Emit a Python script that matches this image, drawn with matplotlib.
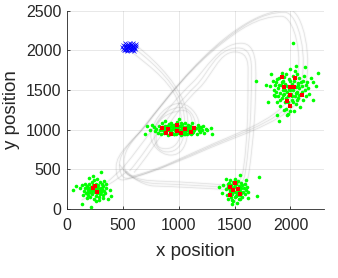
import matplotlib
matplotlib.use("Agg")
import matplotlib.pyplot as plt
from matplotlib.path import Path
from matplotlib.patches import PathPatch

plt.rcParams['font.family'] = ['Liberation Sans', 'DejaVu Sans']

# ---------------- data ----------------
xticks = [0, 500, 1000, 1500, 2000]
yticks = [0, 500, 1000, 1500, 2000, 2500]
xlabel = "x position"
ylabel = "y position"

green_a = [(57,243),(81,294),(131,67),(215,25),(302,461),(386,235),(395,159),(371,126),
    (150,230),(165,260),(170,200),(180,290),(185,240),(190,180),(195,320),(200,260),(205,210),
    (210,150),(215,280),(220,340),(222,230),(228,190),(232,300),(236,250),(240,120),(244,360),
    (248,220),(252,280),(256,170),(260,320),(264,240),(268,200),(272,380),(276,260),(280,300),
    (284,150),(288,230),(292,340),(296,190),(300,270),(305,220),(310,310),(315,250),(320,180),
    (325,290),(330,350),(335,230),(340,200),(345,270),(350,310),(140,180),(160,320),(175,140),
    (200,390),(230,410),(260,100),(290,110),(320,140),(120,260),(135,300),(210,240),(245,270),
    (265,290),(225,260),(255,230),(185,210),(300,240),(190,270)]

green_b = [(700,950),(720,1050),(760,1060),(1300,950),(1290,1020),(1250,1000),(745,1000),(780,1040),
    (790,980),(800,1010),(810,960),(820,1050),(830,1000),(840,940),(850,1080),(855,990),(860,1030),
    (870,960),(875,1110),(880,1010),(890,980),(895,1050),(900,930),(905,1020),(910,1070),(915,990),
    (920,950),(925,1040),(930,1000),(935,1090),(940,960),(945,1030),(950,1010),(955,940),(960,1060),
    (965,990),(970,1020),(975,950),(980,1100),(985,1040),(990,980),(995,1010),(1000,1130),(1005,960),
    (1010,1050),(1015,1000),(1020,930),(1025,1070),(1030,1020),(1035,980),(1040,1040),(1045,950),
    (1050,1010),(1055,1090),(1060,970),(1065,1030),(1070,1000),(1075,940),(1080,1060),(1085,990),
    (1090,1020),(1095,960),(1100,1050),(1105,1000),(1110,940),(1115,1080),(1120,1010),(1125,970),
    (1130,1040),(1140,990),(1150,1020),(1160,950),(1170,1060),(1180,1000),(1190,970),(1200,1030),
    (1210,990),(1220,1050),(1230,960),(1240,1010),(880,1050),(940,1060),(1000,1050),(1060,950),
    (1120,960),(960,940),(1020,1080),(850,1010),(1180,1040),(920,1000),(1000,970),(1080,1030)]

green_c = [(2020,2090),(1690,1610),(2250,1720),(1900,1110),(1780,1560),(1800,1350),(2230,1550),
    (2200,1380),(1880,1180),(2050,1800),(2130,1790),(1830,1700),
    (1850,1500),(1860,1420),(1870,1600),(1880,1350),(1890,1530),(1900,1650),(1905,1460),(1910,1300),
    (1915,1560),(1920,1720),(1925,1400),(1930,1500),(1935,1620),(1940,1250),(1945,1450),(1950,1580),
    (1955,1350),(1960,1700),(1965,1480),(1970,1550),(1975,1200),(1980,1420),(1985,1640),(1990,1510),
    (1995,1300),(2000,1760),(2005,1450),(2010,1580),(2015,1380),(2020,1680),(2025,1500),(2030,1240),
    (2035,1610),(2040,1430),(2045,1540),(2050,1330),(2055,1700),(2060,1470),(2065,1590),(2070,1400),
    (2075,1650),(2080,1520),(2085,1280),(2090,1600),(2095,1450),(2100,1550),(2110,1380),(2120,1680),
    (2130,1500),(2140,1430),(2150,1600),(2160,1520),(1870,1480),(1900,1560),(1950,1500),(2000,1620),
    (2050,1460),(1980,1350),(2010,1420),(1940,1660),(2070,1560),(1960,1400),(2020,1350),(1920,1600),
    (2000,1500),(1890,1420),(2100,1480),(1960,1260),(2040,1740),(1820,1550),(2180,1650),(2170,1450),
    (1840,1620),(1860,1560),(1880,1640),(1910,1380),(1930,1440),(2060,1380),(2080,1440),(2110,1620),
    (2140,1560),(1970,1180),(2000,1230),(1850,1440),(2200,1600)]

green_d = [(1720,400),(1700,160),(1360,280),(1390,200),(1550,430),(1480,60),(1520,75),(1620,140),
    (1600,360),(1420,380),(1420,250),(1430,180),(1440,320),(1445,120),(1450,270),(1455,210),(1460,360),
    (1465,150),(1470,300),(1475,240),(1480,190),(1485,340),(1490,100),(1495,280),(1500,220),(1505,380),
    (1510,160),(1515,310),(1520,250),(1525,200),(1530,350),(1535,130),(1540,290),(1545,230),(1550,180),
    (1555,330),(1560,260),(1565,150),(1570,300),(1575,210),(1580,270),(1590,190),(1590,320),(1600,240),
    (1610,280),(1460,240),(1500,300),(1540,260),(1480,260),(1520,180),(1500,150),(1470,200),(1530,220),
    (1440,280),(1560,200),(1510,330),(1490,230),(1400,300),(1620,220),(1480,110),(1550,120),(1450,330)]

red_pts = [(248,285),(272,210),(230,262),
    (849,1023),(903,1011),(885,952),(930,944),(984,1053),(987,986),(1019,952),(1058,1007),(1109,973),(1139,1023),
    (1925,1661),(2042,1657),(1940,1535),(1994,1535),(2030,1544),(1994,1439),(2105,1443),(1970,1367),(1994,1300),
    (1504,327),(1456,281),(1483,235),(1527,256),(1459,180),(1546,193)]

blue_pts = [(495,2040),(505,2070),(510,2010),(515,2050),(520,2090),(525,2020),(530,2060),(535,1990),
    (540,2040),(545,2080),(550,2010),(555,2050),(560,2095),(565,2030),(570,2065),(575,2000),(580,2045),
    (585,2080),(590,2020),(595,2055),(600,1995),(605,2070),(610,2035),(615,2085),(620,2050),(500,2020),
    (525,2075),(550,2040),(575,2070),(600,2040),(540,2000),(565,2005),(585,2010),(530,2030),(560,2060),
    (590,2090),(515,2000),(545,2055),(605,2015),(570,2040)]

# trajectories: cubic Bezier chains [anchor, ctrl, ctrl, anchor, ctrl, ctrl, anchor, ...]
traj_big = [
    [(560,390),(824,482),(1060,656),(1300,800),(1600,980),(1995,1160),(2080,1500),(2170,1900),(2070,2480),
     (1950,2480),(1730,2480),(1548,2283),(1400,2120),(1131,1824),(893,1400),(700,1050),(613,892),(470,740),
     (470,560),(470,480),(484,364),(560,390)],
    [(600,420),(864,512),(1080,686),(1320,830),(1620,1010),(1955,1180),(2040,1520),(2130,1920),(2030,2430),
     (1920,2430),(1700,2430),(1528,2243),(1380,2080),(1111,1784),(913,1430),(720,1080),(633,922),(510,780),
     (510,600),(510,520),(524,394),(600,420)],
    [(520,370),(784,462),(1040,626),(1280,770),(1580,950),(2035,1140),(2120,1480),(2210,1880),(2110,2510),
     (1990,2510),(1770,2510),(1568,2323),(1420,2160),(1151,1864),(873,1370),(680,1020),(593,862),(440,710),
     (440,530),(440,450),(444,344),(520,370)],
]
traj_loop2 = [
    [(560,480),(766,823),(910,1230),(1150,1550),(1270,1710),(1330,2030),(1530,2030),(1670,2030),(1650,1790),
     (1650,1650),(1650,1270),(1638,880),(1600,500),(1592,420),(1587,323),(1510,300)],
    [(600,460),(806,803),(940,1200),(1180,1520),(1300,1680),(1360,1980),(1500,1980),(1640,1980),(1620,1790),
     (1620,1650),(1620,1270),(1618,900),(1580,520),(1572,440),(1567,343),(1490,320)],
    [(500,520),(706,863),(880,1270),(1120,1590),(1240,1750),(1360,2090),(1560,2090),(1700,2090),(1690,1790),
     (1690,1650),(1690,1270),(1668,860),(1630,480),(1622,400),(1617,303),(1530,280)],
]
traj_blue = [
    [(600,2030),(802,1808),(996,1547),(1040,1250),(1065,1082),(1070,720),(900,720),(800,720),(780,850),
     (780,950),(780,1090),(863,1253),(1000,1280),(1098,1300),(1150,1150),(1150,1050)],
    [(560,2000),(762,1778),(966,1567),(1010,1270),(1035,1102),(1050,760),(880,760),(780,760),(800,880),
     (800,980),(800,1120),(883,1213),(1020,1240),(1118,1260),(1120,1120),(1120,1020)],
    [(620,2060),(822,1838),(1026,1527),(1070,1230),(1095,1062),(1100,680),(930,680),(830,680),(750,820),
     (750,920),(750,1060),(853,1303),(990,1330),(1088,1350),(1180,1180),(1180,1080)],
]
traj_low = [
    [(500,500),(554,393),(680,326),(800,320),(1020,309),(1241,292),(1460,270)],
    [(540,470),(594,363),(730,356),(850,350),(1070,339),(1231,322),(1450,300)],
    [(470,560),(524,453),(660,296),(780,290),(1000,279),(1251,262),(1470,240)],
    [(130,110),(250,200),(400,380),(500,520)],
    [(170,150),(290,240),(440,350),(540,480)],
]

# ---------------- figure ----------------
W, H = 338, 278
fig = plt.figure(figsize=(W/100, H/100), dpi=100)
ax = fig.add_axes([67/W, 69/H, 257/W, 198.3/H])
ax.set_xlim(0, 2300)
ax.set_ylim(0, 2500)

dark = (0.15, 0.15, 0.15)

def draw_chain(pts, **kw):
    codes = [Path.MOVETO] + [Path.CURVE4] * (len(pts) - 1)
    ax.add_patch(PathPatch(Path(pts, codes), fill=False, **kw))

for group in (traj_big, traj_loop2, traj_blue, traj_low):
    for pts in group:
        draw_chain(pts, edgecolor=(0.5, 0.5, 0.5), lw=2.0, alpha=0.045, zorder=1)
        draw_chain(pts, edgecolor=(0.5, 0.5, 0.5), lw=0.5, alpha=0.2, zorder=1)

for cl in (green_a, green_b, green_c, green_d):
    xs, ys = zip(*cl)
    ax.plot(xs, ys, 'o', color=(0, 1, 0), ms=2.6, mew=0, zorder=3)

xs, ys = zip(*red_pts)
ax.plot(xs, ys, 's', color=(1, 0, 0), ms=2.8, mew=0, zorder=4)

xs, ys = zip(*blue_pts)
ax.plot(xs, ys, 'x', color=(0, 0, 1), ms=2.3, mew=0.45, zorder=4)

ax.set_xticks(xticks)
ax.set_yticks(yticks)
ax.grid(True, color=dark, alpha=0.12, lw=0.6)
ax.set_axisbelow(True)
for s in ('top', 'right'):
    ax.spines[s].set_visible(False)
for s in ('left', 'bottom'):
    ax.spines[s].set_color(dark)
    ax.spines[s].set_linewidth(0.6)
ax.tick_params(direction='in', length=2.5, width=0.6, colors=dark, labelsize=11.5)
ax.tick_params(axis='x', pad=6.5)
ax.tick_params(axis='y', pad=4)
ax.set_xlabel(xlabel, fontsize=13.5, color=dark, labelpad=7.5)
ax.set_ylabel(ylabel, fontsize=13.5, color=dark, labelpad=4)

fig.savefig("out.png", dpi=100)
